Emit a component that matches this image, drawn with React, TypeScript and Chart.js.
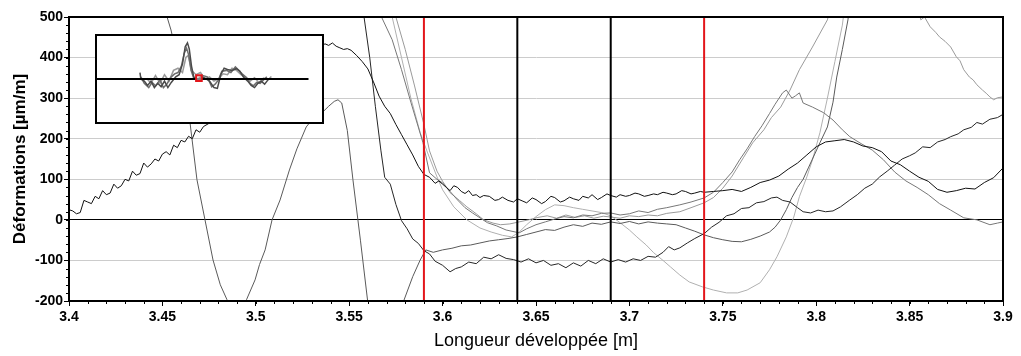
import React, { useEffect, useRef } from "react";
import { Chart, registerables } from "chart.js";

Chart.register(...registerables);

type Pt = [number, number];

const FONT = "'Liberation Sans', Arial, sans-serif";

const X_MIN = 3.4;
const X_MAX = 3.9;
const Y_MIN = -200;
const Y_MAX = 500;

const xTickValues = [3.4, 3.45, 3.5, 3.55, 3.6, 3.65, 3.7, 3.75, 3.8, 3.85, 3.9];
const xTickLabels = ["3.4", "3.45", "3.5", "3.55", "3.6", "3.65", "3.7", "3.75", "3.8", "3.85", "3.9"];
const yTickValues = [-200, -100, 0, 100, 200, 300, 400, 500];
const yTickLabels = ["-200", "-100", "0", "100", "200", "300", "400", "500"];
const xMinorCount = 50; // minor ticks every 0.01
const yMinorCount = 35; // minor ticks every 20

const redMarkers = [3.59, 3.74];
const blackMarkers = [3.64, 3.69];

const xTitle = "Longueur développée [m]";
const yTitle = "Déformations [µm/m]";

// Gauge A (black)
const seriesA: Pt[] = [
  [3.4, 25], [3.402, 22], [3.404, 15], [3.406, 18], [3.408, 48], [3.41, 44], [3.412, 40], [3.414, 58],
  [3.416, 52], [3.418, 72], [3.42, 62], [3.422, 66], [3.424, 88], [3.426, 78], [3.428, 84], [3.43, 100],
  [3.432, 96], [3.434, 120], [3.436, 110], [3.438, 114], [3.44, 140], [3.442, 130], [3.444, 138],
  [3.446, 150], [3.448, 145], [3.45, 162], [3.452, 168], [3.454, 160], [3.456, 184], [3.458, 178],
  [3.46, 196], [3.462, 192], [3.464, 206], [3.466, 200], [3.468, 222], [3.47, 216], [3.472, 230],
  [3.475, 238], [3.478, 255], [3.483, 265], [3.488, 285], [3.493, 300], [3.498, 318], [3.503, 335],
  [3.508, 352], [3.513, 368], [3.518, 382], [3.523, 400], [3.527, 410], [3.531, 422], [3.533, 430],
  [3.535, 426], [3.537, 434], [3.539, 430], [3.541, 436], [3.543, 428], [3.545, 424], [3.547, 420],
  [3.549, 422], [3.551, 418], [3.554, 405], [3.557, 390], [3.56, 372], [3.563, 340], [3.566, 305],
  [3.569, 280], [3.572, 262], [3.575, 235], [3.578, 210], [3.581, 185], [3.584, 160], [3.587, 132],
  [3.59, 112], [3.593, 105], [3.596, 90], [3.598, 96], [3.6, 88], [3.602, 80], [3.604, 72], [3.606, 84],
  [3.608, 80], [3.61, 70], [3.612, 65], [3.614, 72], [3.616, 60], [3.618, 62], [3.62, 55], [3.622, 60],
  [3.625, 58], [3.628, 48], [3.63, 50], [3.632, 56], [3.635, 48], [3.638, 44], [3.64, 52], [3.643, 46],
  [3.645, 42], [3.648, 54], [3.65, 50], [3.653, 40], [3.655, 45], [3.658, 58], [3.66, 55], [3.663, 44],
  [3.665, 47], [3.668, 56], [3.67, 52], [3.673, 48], [3.675, 58], [3.678, 54], [3.68, 62], [3.683, 50],
  [3.685, 55], [3.688, 64], [3.69, 60], [3.693, 56], [3.695, 62], [3.698, 58], [3.7, 60], [3.703, 66],
  [3.705, 64], [3.708, 58], [3.71, 60], [3.713, 64], [3.715, 62], [3.718, 68], [3.72, 66], [3.723, 62],
  [3.725, 64], [3.728, 72], [3.73, 70], [3.733, 64], [3.735, 66], [3.738, 70], [3.74, 68], [3.745, 70],
  [3.75, 72], [3.755, 75], [3.76, 70], [3.765, 80], [3.77, 92], [3.775, 98], [3.78, 108], [3.785, 125],
  [3.79, 140], [3.795, 160], [3.8, 180], [3.805, 192], [3.81, 195], [3.815, 198], [3.82, 192],
  [3.825, 182], [3.83, 178], [3.835, 168], [3.84, 145], [3.845, 136], [3.85, 120], [3.855, 105],
  [3.86, 95], [3.865, 75], [3.87, 68], [3.875, 72], [3.88, 78], [3.885, 76], [3.89, 92], [3.895, 104],
  [3.9, 128],
];

// Gauge B (black)
const seriesB: Pt[] = [
  [3.55, 800], [3.558, 498], [3.561, 400], [3.564, 280], [3.567, 170], [3.569, 105], [3.572, 88],
  [3.575, 38], [3.578, -2], [3.581, -22], [3.584, -47], [3.587, -58], [3.59, -76], [3.593, -84],
  [3.596, -102], [3.6, -112], [3.604, -128], [3.607, -120], [3.61, -116], [3.614, -104], [3.618, -108],
  [3.622, -92], [3.626, -96], [3.63, -86], [3.634, -95], [3.638, -98], [3.642, -104], [3.646, -96],
  [3.65, -106], [3.654, -100], [3.658, -112], [3.662, -108], [3.666, -118], [3.67, -106], [3.674, -114],
  [3.678, -100], [3.682, -108], [3.686, -96], [3.69, -104], [3.694, -98], [3.698, -104], [3.702, -96],
  [3.706, -100], [3.71, -90], [3.714, -92], [3.718, -80], [3.721, -66], [3.724, -74], [3.727, -69],
  [3.731, -57], [3.735, -46], [3.74, -34], [3.744, -18], [3.748, -6], [3.752, 10], [3.756, 15],
  [3.76, 28], [3.764, 30], [3.768, 42], [3.772, 45], [3.776, 54], [3.779, 56], [3.782, 48], [3.786, 44],
  [3.79, 30], [3.793, 20], [3.797, 17], [3.801, 24], [3.805, 20], [3.809, 22], [3.813, 32], [3.818, 49],
  [3.822, 62], [3.826, 78], [3.83, 88], [3.834, 106], [3.838, 120], [3.842, 135], [3.846, 150],
  [3.85, 158], [3.853, 165], [3.857, 180], [3.861, 178], [3.865, 192], [3.869, 198], [3.872, 205],
  [3.876, 212], [3.879, 222], [3.883, 228], [3.886, 240], [3.889, 236], [3.893, 248], [3.897, 252],
  [3.9, 260],
];

// Gauge V (dark grey, large oscillation)
const seriesV: Pt[] = [
  [3.44, 900], [3.4525, 500], [3.4546, 468], [3.458, 400], [3.461, 330], [3.4648, 239], [3.4685, 99],
  [3.4728, 0], [3.4771, -99], [3.481, -160], [3.4846, -197], [3.488, -300], [3.492, -300], [3.495, -197],
  [3.4996, -148], [3.502, -110], [3.505, -74], [3.5087, 0], [3.513, 49], [3.518, 123], [3.522, 175],
  [3.527, 229], [3.531, 252], [3.535, 262], [3.539, 280], [3.542, 292], [3.544, 296], [3.546, 288],
  [3.549, 220], [3.552, 99], [3.556, -50], [3.56, -205], [3.565, -400], [3.574, -400], [3.579, -202],
  [3.584, -140], [3.588, -99], [3.591, -74], [3.595, -80], [3.6, -74], [3.605, -70], [3.61, -64],
  [3.615, -62], [3.62, -57], [3.625, -52], [3.63, -49], [3.635, -46], [3.64, -42], [3.645, -36],
  [3.65, -30], [3.655, -24], [3.66, -26], [3.665, -18], [3.67, -12], [3.675, -16], [3.68, -8],
  [3.685, -11], [3.69, -5], [3.695, -9], [3.7, -4], [3.705, -10], [3.71, -5], [3.715, -8], [3.72, -10],
  [3.725, -12], [3.73, -20], [3.735, -28], [3.74, -37], [3.745, -44], [3.75, -49], [3.755, -53],
  [3.76, -54], [3.765, -48], [3.77, -40], [3.775, -30], [3.778, -18], [3.781, 0], [3.784, 25],
  [3.787, 55], [3.79, 80], [3.793, 100], [3.796, 130], [3.799, 160], [3.802, 190], [3.806, 229],
  [3.809, 290], [3.811, 352], [3.814, 420], [3.817, 493], [3.822, 700],
];

// Gauge G1 (light grey, deep trough)
const seriesG1: Pt[] = [
  [3.565, 800], [3.573, 500], [3.578, 400], [3.583, 300], [3.588, 215], [3.592, 165], [3.597, 106],
  [3.6, 74], [3.606, 32], [3.613, 0], [3.62, -20], [3.626, -30], [3.632, -38], [3.637, -42], [3.641, -30],
  [3.645, -12], [3.65, 8], [3.655, 25], [3.66, 37], [3.665, 35], [3.67, 30], [3.675, 26], [3.68, 22],
  [3.685, 18], [3.69, 10], [3.695, -7], [3.7, -25], [3.704, -42], [3.709, -62], [3.713, -81],
  [3.718, -100], [3.722, -116], [3.727, -136], [3.732, -153], [3.739, -165], [3.745, -173],
  [3.752, -180], [3.758, -180], [3.763, -173], [3.77, -155], [3.775, -123], [3.779, -91], [3.784, -42],
  [3.788, 7], [3.791, 57], [3.795, 106], [3.798, 148], [3.802, 215], [3.806, 300], [3.81, 390],
  [3.814, 480], [3.82, 700],
];

// Gauge G2 (grey, peak near 3.78)
const seriesG2: Pt[] = [
  [3.562, 800], [3.5675, 498], [3.573, 444], [3.578, 370], [3.583, 290], [3.5895, 190], [3.593, 116],
  [3.597, 100], [3.6, 91], [3.604, 70], [3.608, 49], [3.612, 30], [3.616, 17], [3.62, 5], [3.624, -7],
  [3.629, -15], [3.634, -25], [3.641, -32], [3.645, -22], [3.65, -12], [3.655, -5], [3.66, 2],
  [3.665, 8], [3.67, 5], [3.675, 12], [3.68, 10], [3.685, 16], [3.69, 17], [3.695, 12], [3.7, 15],
  [3.705, 22], [3.71, 18], [3.715, 26], [3.72, 30], [3.727, 37], [3.733, 44], [3.74, 54], [3.745, 68],
  [3.75, 92], [3.755, 118], [3.759, 148], [3.763, 175], [3.767, 205], [3.771, 232], [3.775, 262],
  [3.778, 285], [3.782, 313], [3.784, 320], [3.787, 300], [3.789, 306], [3.791, 313], [3.793, 288],
  [3.798, 278], [3.804, 264], [3.809, 246], [3.814, 222], [3.818, 205], [3.824, 188], [3.83, 172],
  [3.836, 148], [3.842, 118], [3.848, 96], [3.854, 80], [3.86, 62], [3.866, 40], [3.872, 24],
  [3.879, 5], [3.886, 0], [3.893, -12], [3.897, -8], [3.9, -5],
];

// Gauge G3 (grey, leaves the top and comes back)
const seriesG3: Pt[] = [
  [3.566, 800], [3.575, 500], [3.58, 420], [3.585, 330], [3.59, 235], [3.593, 170], [3.597, 120],
  [3.6, 95], [3.604, 67], [3.609, 48], [3.613, 32], [3.618, 15], [3.622, 0], [3.627, -8], [3.631, -12],
  [3.636, -10], [3.641, -5], [3.646, 0], [3.651, 6], [3.656, 10], [3.661, 4], [3.666, 12], [3.671, 6],
  [3.676, 10], [3.681, 4], [3.686, 9], [3.69, 7], [3.695, 4], [3.7, 10], [3.705, 8], [3.71, 12],
  [3.715, 10], [3.72, 16], [3.727, 20], [3.733, 30], [3.74, 42], [3.745, 55], [3.75, 78], [3.755, 108],
  [3.761, 153], [3.766, 190], [3.772, 222], [3.776, 252], [3.781, 278], [3.786, 320], [3.791, 370],
  [3.798, 426], [3.806, 493], [3.812, 600], [3.83, 820], [3.848, 640], [3.856, 493], [3.858, 500],
  [3.861, 476], [3.864, 462], [3.866, 451], [3.869, 440], [3.872, 426], [3.875, 402], [3.877, 392],
  [3.879, 370], [3.882, 352], [3.884, 345], [3.886, 333], [3.889, 320], [3.891, 312], [3.893, 303],
  [3.895, 296], [3.897, 301], [3.9, 303],
];

// Inset overview (whole beam), arbitrary position units 0..100, scaled strain -1..1
const insetBase: Pt[] = [[0, 0], [94, 0]];
const insetC1: Pt[] = [
  [19.1, 0.15], [19.5, 0], [21, -0.05], [22.5, -0.15], [24, -0.05], [25.5, -0.2], [27, -0.1], [28.5, -0.18],
  [30, -0.05], [31.5, -0.2], [33, -0.08], [35, 0.05], [36.5, 0.1], [38, 0.35], [39.2, 0.75], [40.2, 0.84],
  [41, 0.7], [42, 0.3], [43, 0.05], [44.5, -0.02], [46, 0.05], [48, 0.02], [50, -0.05], [52, -0.2],
  [53.5, -0.22], [55, 0.1], [56.5, 0.25], [58, 0.22], [60, 0.2], [62, 0.24], [63.5, 0.18], [65, 0.05],
  [67, -0.05], [68.5, -0.15], [70, -0.2], [71.5, -0.1], [73, -0.05], [74.5, -0.12], [76, -0.02],
];
const insetC2: Pt[] = [
  [19.5, 0.05], [21, -0.1], [23, -0.2], [24.5, -0.08], [26, -0.16], [28, -0.02], [29.5, -0.2], [31, -0.12],
  [33, 0.05], [34.5, 0.12], [36, 0.15], [37.5, 0.3], [38.8, 0.6], [39.8, 0.72], [40.8, 0.55], [41.8, 0.2],
  [43, 0.02], [45, -0.04], [47, 0.08], [49, 0.05], [51, -0.18], [52.5, -0.12], [54, -0.02], [55.5, 0.18],
  [57.5, 0.2], [59.5, 0.15], [61.5, 0.28], [63, 0.2], [64.5, 0.12], [66.5, 0.03], [68, -0.1], [69.5, -0.16],
  [71, -0.08], [72.5, -0.1], [74, -0.02], [75.5, 0.05],
];
const insetC3: Pt[] = [
  [22, 0.02], [24, -0.1], [26, 0.08], [28, -0.1], [30, 0.1], [32, -0.05], [34, 0.2], [36, 0.25], [38, 0.15],
  [39.5, 0.5], [40.5, 0.55], [42, 0.2], [44, 0.1], [46, 0.15], [48, 0], [50, 0.05], [52, -0.05], [54, 0],
  [56, 0.12], [58, 0.1], [60, 0.25], [62, 0.2], [64, 0.1], [66, 0.05], [68, -0.05], [70, 0.03], [72, -0.08],
  [74, 0.02], [76, -0.02], [77.5, 0.06],
];
const insetMarker: Pt[] = [[45.3, 0.02]];

const toXY = (pts: Pt[]) => pts.map(([x, y]) => ({ x, y }));

const mainCurves = [
  { data: seriesG1, color: "#b0b0b0" },
  { data: seriesG3, color: "#9a9a9a" },
  { data: seriesG2, color: "#777777" },
  { data: seriesV, color: "#5a5a5a" },
  { data: seriesB, color: "#262626" },
  { data: seriesA, color: "#111111" },
];

const framePlugin = {
  id: "frameMinor",
  afterDatasetsDraw(chart: any) {
    const { ctx, chartArea: a, scales } = chart;
    const xs = scales.x;
    const ys = scales.y;
    ctx.save();
    ctx.strokeStyle = "#000";
    ctx.lineWidth = 2;
    ctx.strokeRect(a.left, a.top, a.right - a.left, a.bottom - a.top);
    ctx.lineWidth = 1;
    ctx.beginPath();
    for (let i = 0; i <= xMinorCount; i++) {
      const v = X_MIN + ((X_MAX - X_MIN) * i) / xMinorCount;
      const px = Math.round(xs.getPixelForValue(v)) + 0.5;
      ctx.moveTo(px, a.bottom);
      ctx.lineTo(px, a.bottom + 3);
    }
    for (let i = 0; i <= yMinorCount; i++) {
      const v = Y_MIN + ((Y_MAX - Y_MIN) * i) / yMinorCount;
      const py = Math.round(ys.getPixelForValue(v)) + 0.5;
      ctx.moveTo(a.left, py);
      ctx.lineTo(a.left - 3, py);
    }
    ctx.stroke();
    ctx.restore();
  },
};

export default function App() {
  const mainRef = useRef<HTMLCanvasElement | null>(null);
  const insetRef = useRef<HTMLCanvasElement | null>(null);

  useEffect(() => {
    if (!mainRef.current || !insetRef.current) return;

    const markerSets = [
      ...redMarkers.map((v) => ({ v, color: "#e3161b" })),
      ...blackMarkers.map((v) => ({ v, color: "#000000" })),
    ].map((m) => ({
      data: [{ x: m.v, y: Y_MIN }, { x: m.v, y: Y_MAX }],
      borderColor: m.color,
      borderWidth: 2,
      pointRadius: 0,
      order: 0,
    }));

    const curveSets = mainCurves.map((c, i) => ({
      data: toXY(c.data),
      borderColor: c.color,
      borderWidth: 1,
      pointRadius: 0,
      tension: 0,
      order: 10 - i,
    }));

    const main = new Chart(mainRef.current, {
      type: "line",
      data: { datasets: [...markerSets, ...curveSets] as any },
      plugins: [framePlugin],
      options: {
        animation: false,
        responsive: false,
        maintainAspectRatio: false,
        layout: { autoPadding: false, padding: { left: 0, right: 18, top: 17, bottom: 0 } },
        plugins: { legend: { display: false }, tooltip: { enabled: false } },
        scales: {
          x: {
            type: "linear",
            min: X_MIN,
            max: X_MAX,
            afterBuildTicks: (axis: any) => {
              axis.ticks = xTickValues.map((v) => ({ value: v }));
            },
            afterFit: (axis: any) => {
              axis.height = 55;
            },
            ticks: {
              autoSkip: false,
              maxRotation: 0,
              padding: 3,
              color: "#000",
              font: { family: FONT, size: 14, weight: "bold" },
              callback: (_v: any, i: number) => xTickLabels[i],
            },
            grid: { drawOnChartArea: false, drawTicks: true, tickLength: 5, tickColor: "#000" },
            border: { display: true, color: "#000", width: 2 },
            title: {
              display: true,
              text: xTitle,
              color: "#000",
              font: { family: FONT, size: 18 },
              padding: { top: 0, bottom: 4 },
            },
          },
          y: {
            type: "linear",
            min: Y_MIN,
            max: Y_MAX,
            afterBuildTicks: (axis: any) => {
              axis.ticks = yTickValues.map((v) => ({ value: v }));
            },
            afterFit: (axis: any) => {
              axis.width = 69;
            },
            ticks: {
              padding: 1,
              color: "#000",
              font: { family: FONT, size: 14, weight: "bold" },
              callback: (_v: any, i: number) => yTickLabels[i],
            },
            grid: {
              color: (ctx: any) => (ctx.tick && ctx.tick.value === 0 ? "#000" : "#cccccc"),
              lineWidth: 1,
              drawTicks: true,
              tickLength: 5,
              tickColor: "#000",
            },
            border: { display: true, color: "#000", width: 2 },
            title: {
              display: true,
              text: yTitle,
              color: "#000",
              font: { family: FONT, size: 17, weight: "bold" },
              padding: { top: 10, bottom: 0 },
            },
          },
        },
      },
    } as any);

    const insetSets = [
      { data: toXY(insetMarker), borderColor: "#e3161b", backgroundColor: "rgba(220,220,220,0.6)", borderWidth: 2, pointRadius: 4, pointStyle: "rect", showLine: false, order: 0 },
      { data: toXY(insetBase), borderColor: "#000", borderWidth: 2, pointRadius: 0, order: 1 },
      { data: toXY(insetC1), borderColor: "#4a4a4a", borderWidth: 1.5, pointRadius: 0, order: 2 },
      { data: toXY(insetC2), borderColor: "#6e6e6e", borderWidth: 1.5, pointRadius: 0, order: 3 },
      { data: toXY(insetC3), borderColor: "#9a9a9a", borderWidth: 1.5, pointRadius: 0, order: 4 },
    ];

    const inset = new Chart(insetRef.current, {
      type: "line",
      data: { datasets: insetSets as any },
      options: {
        animation: false,
        responsive: false,
        maintainAspectRatio: false,
        layout: { autoPadding: false, padding: 0 },
        plugins: { legend: { display: false }, tooltip: { enabled: false } },
        scales: {
          x: { type: "linear", min: 0, max: 100, display: false },
          y: { type: "linear", min: -1, max: 1, display: false },
        },
      },
    } as any);

    return () => {
      main.destroy();
      inset.destroy();
    };
  }, []);

  return (
    <div style={{ position: "absolute", left: 0, top: 0, width: 1021, height: 356, background: "#fff", overflow: "hidden" }}>
      <canvas ref={mainRef} width={1021} height={356} style={{ position: "absolute", left: 0, top: 0 }} />
      <div
        style={{
          position: "absolute",
          left: 95,
          top: 34,
          width: 229,
          height: 90,
          boxSizing: "border-box",
          border: "2px solid #000",
          background: "#fff",
        }}
      >
        <canvas ref={insetRef} width={225} height={86} style={{ display: "block" }} />
      </div>
    </div>
  );
}
